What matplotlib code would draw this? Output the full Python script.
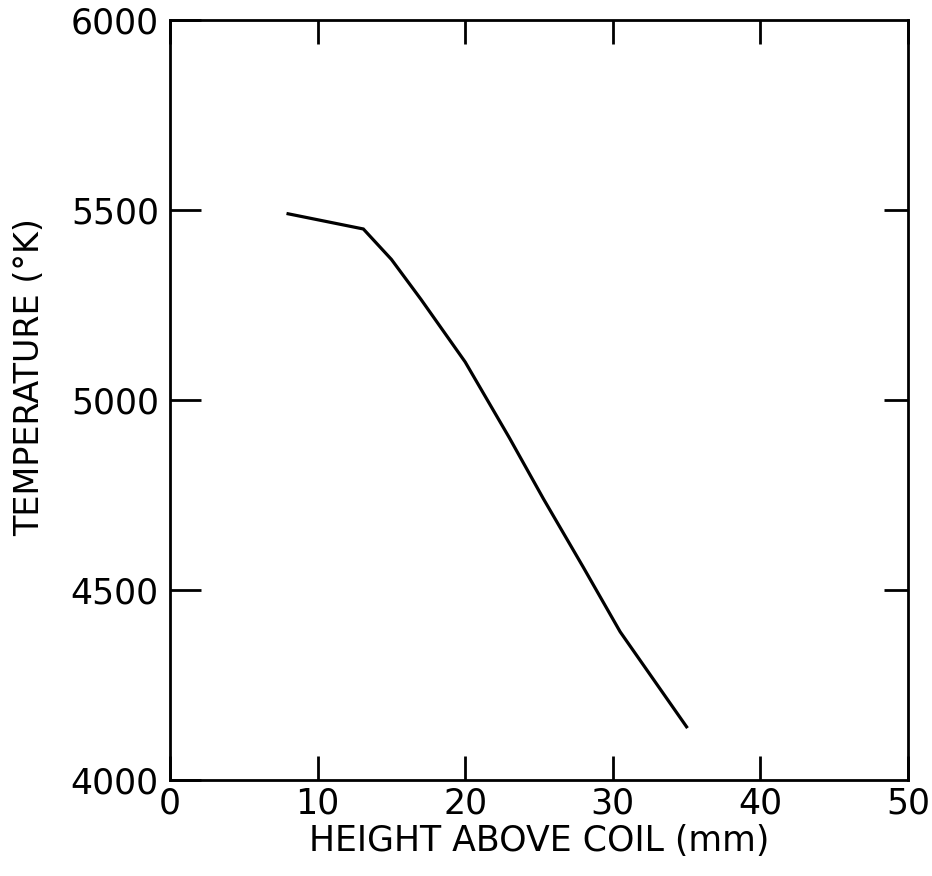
import matplotlib
matplotlib.use("Agg")
import matplotlib.pyplot as plt

# Temperature profile above the induction coil
height_mm = [8.0, 13.1, 15.0, 17.0, 20.0, 23.0, 25.3, 28.0, 30.5, 35.0]
temperature_k = [5490, 5450, 5370, 5265, 5100, 4900, 4740, 4560, 4390, 4140]

x_ticks = [0, 10, 20, 30, 40, 50]
x_tick_labels = ["0", "10", "20", "30", "40", "50"]
y_ticks = [4000, 4500, 5000, 5500, 6000]
y_tick_labels = ["4000", "4500", "5000", "5500", "6000"]

plt.rcParams["font.family"] = ["DejaVu Sans"]

fig = plt.figure(figsize=(9.32, 8.76), dpi=100)
ax = fig.add_axes([0.1824, 0.1096, 0.7918, 0.8676])

ax.plot(height_mm, temperature_k, color="black", lw=2.3, solid_joinstyle="miter")

ax.set_xlim(0, 50)
ax.set_ylim(4000, 6000)
for s in ax.spines.values():
    s.set_linewidth(2.0)

ax.set_xticks(x_ticks)
ax.set_xticklabels(x_tick_labels)
ax.set_yticks(y_ticks)
ax.set_yticklabels(y_tick_labels)
ax.tick_params(axis="x", direction="in", length=17, width=2.0, top=True,
               labelsize=25, pad=5)
ax.tick_params(axis="y", direction="in", length=22, width=2.0, right=False,
               labelsize=25, pad=8)

# right-hand ticks are a little shorter than the left-hand ones
axr = ax.twinx()
axr.set_ylim(ax.get_ylim())
axr.set_yticks(y_ticks[1:-1])
axr.tick_params(axis="y", direction="in", length=17, width=2.0, labelright=False)
for s in axr.spines.values():
    s.set_visible(False)

ax.set_xlabel("HEIGHT ABOVE COIL (mm)", fontsize=25, labelpad=2)
ax.set_ylabel("TEMPERATURE (°K)", fontsize=24)
ax.yaxis.set_label_coords(-0.168, 0.53)

fig.savefig("out.png", dpi=100, facecolor="white")
